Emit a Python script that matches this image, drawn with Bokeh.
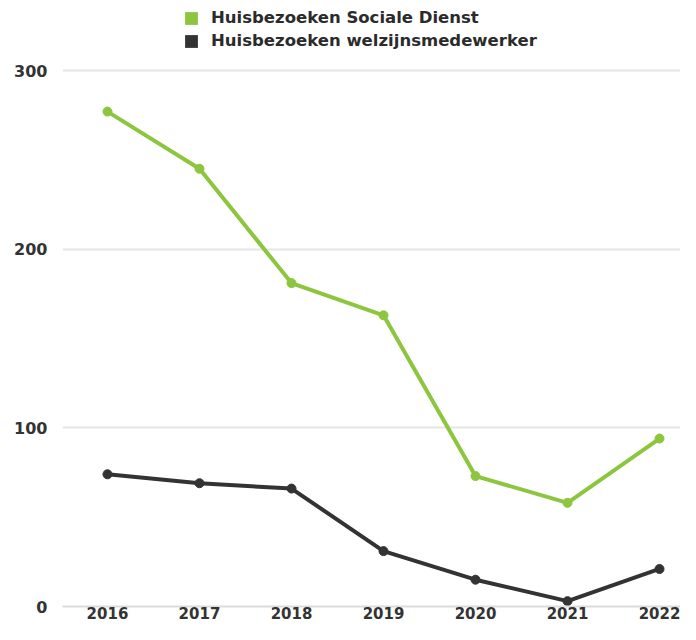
from bokeh.plotting import figure
from bokeh.models import FixedTicker, Legend, LegendItem, ColumnDataSource
from bokeh.embed import file_html
from bokeh.resources import INLINE

years = [2016, 2017, 2018, 2019, 2020, 2021, 2022]
sociale_dienst = [277, 245, 181, 163, 73, 58, 94]
welzijnsmedewerker = [74, 69, 66, 31, 15, 3, 21]
series_names = ["Huisbezoeken Sociale Dienst", "Huisbezoeken welzijnsmedewerker"]
y_ticks = [0, 100, 200, 300]

GREEN = "#8cc63e"
DARK = "#333333"
FONT = "DejaVu Sans"
NAN = float("nan")

FH = 606
p = figure(
    frame_width=618, frame_height=FH,
    x_range=(2015.511, 2022.228), y_range=(0, 339.18),
    output_backend="svg", toolbar_location=None,
    min_border_left=62, min_border_right=0, min_border_top=0, min_border_bottom=0,
)
p.outline_line_color = None
p.background_fill_color = "white"
p.border_fill_color = "white"

p.xgrid.grid_line_color = None
p.ygrid.grid_line_color = "#e6e6e6"
p.ygrid.grid_line_width = 2

p.xaxis.ticker = FixedTicker(ticks=years)
p.yaxis.ticker = FixedTicker(ticks=y_ticks)
for ax in (p.xaxis, p.yaxis):
    ax.major_tick_line_color = None
    ax.minor_tick_line_color = None
    ax.major_tick_out = 0
    ax.major_tick_in = 0
    ax.major_label_text_font = FONT
    ax.major_label_text_font_style = "bold"
    ax.major_label_text_color = "#333333"
p.yaxis.axis_line_color = None
p.yaxis.major_label_text_font_size = "16px"
p.yaxis.major_label_standoff = 15
p.xaxis.major_label_text_font_size = "15px"
p.xaxis.major_label_standoff = 0
p.xaxis.axis_line_color = "#dcdcdc"
p.xaxis.axis_line_width = 2

src = ColumnDataSource(dict(x=years, a=sociale_dienst, b=welzijnsmedewerker))
p.line("x", "a", source=src, line_color=GREEN, line_width=4)
p.scatter("x", "a", source=src, size=9, fill_color=GREEN, line_color=GREEN)
p.line("x", "b", source=src, line_color=DARK, line_width=4)
p.scatter("x", "b", source=src, size=9, fill_color=DARK, line_color=DARK)

# legend swatches (renderers with no visible mark)
ra = p.quad(left=[NAN], right=[NAN], top=[NAN], bottom=[NAN], fill_color=GREEN, line_color=None)
rb = p.quad(left=[NAN], right=[NAN], top=[NAN], bottom=[NAN], fill_color=DARK, line_color=None)
legend = Legend(
    items=[LegendItem(label=series_names[0], renderers=[ra]),
           LegendItem(label=series_names[1], renderers=[rb])],
    location=(121, FH - 50),
    orientation="vertical",
    glyph_width=16, glyph_height=16, label_height=16, spacing=4,
    label_standoff=12, padding=0, margin=0,
    border_line_color=None, background_fill_alpha=0,
    label_text_font=FONT, label_text_font_style="bold",
    label_text_font_size="16.5px", label_text_color="#2b2b2b",
)
p.add_layout(legend, "center")

open("out.html", "w").write(file_html(p, INLINE))
